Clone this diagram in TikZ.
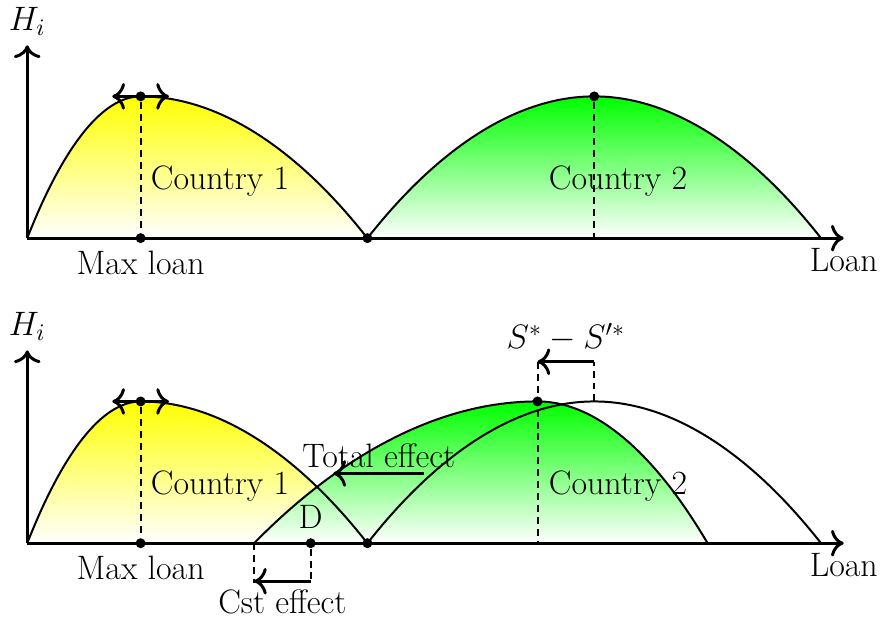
\RequirePackage{fix-cm}
\documentclass[tikz,border=0pt]{standalone}
\usepackage{amsmath}
\usetikzlibrary{positioning,arrows.meta}
\tikzset{
  tip/.tip={To[scale=1.3]},
  axis/.style={line width=1.5pt,-tip},
  curve/.style={line width=1pt},
  dot/.style={circle,fill,inner sep=0pt,minimum size=5pt},
  guide/.style={line width=1pt,dash pattern=on 3.5pt off 2.5pt},
  shiftarr/.style={line width=1.5pt,-tip},
  every node/.style={font=\fontsize{17}{20}\selectfont}
}

\begin{document}
\begin{tikzpicture}
  \useasboundingbox (-0.48,-6.77) rectangle (15.04,4.2);
  % upper panel
  \fill[top color=yellow,bottom color=white] (0,0) parabola bend (2,2.5) (6,0) -- cycle;
  \fill[top color=green,bottom color=white] (6,0) parabola bend (10,2.5) (14,0) -- cycle;
  \draw[curve] (0,0) parabola bend (2,2.5) (6,0) parabola bend (10,2.5) (14,0);
  \coordinate (O1) at (0,0);
  \draw[axis] (O1) -- (0,3.4) node[above=1pt] (H1) {$H_i$};
  \draw[axis] (O1) -- (14.4,0) node[below=1pt] (L1) {Loan};
  \node[dot] (top1) at (2,2.5) {}; \node[dot] (max1) at (2,0) {};
  \node[dot] (mid1) at (6,0) {}; \node[dot] (top2) at (10,2.5) {};
  \coordinate (foot2) at (10,0);
  \coordinate (l1) at (1.5,2.5); \coordinate (r1) at (2.5,2.5);
  \draw[guide] (top1) -- (max1); \draw[guide] (top2) -- (foot2);
  \draw[shiftarr,tip-tip] (l1) -- (r1);
  \node[below=0pt of max1] (ml1) {Max loan};
  \node (c1) at (3.4,1) {Country 1}; \node (c2) at (10.42,1) {Country 2};

  % lower panel
  \begin{scope}[yshift=-5.38cm]
    \fill[top color=yellow,bottom color=white] (0,0) parabola bend (2,2.5) (6,0) -- cycle;
    \fill[top color=green,bottom color=white] (4,0) parabola bend (9,2.5) (12,0) -- cycle;
    \draw[curve] (0,0) parabola bend (2,2.5) (6,0) parabola bend (10,2.5) (14,0);
    \draw[curve] (4,0) parabola bend (9,2.5) (12,0);
    \coordinate (O2) at (0,0);
    \draw[axis] (O2) -- (0,3.4) node[above=1pt] (H2) {$H_i$};
    \draw[axis] (O2) -- (14.4,0) node[below=1pt] (L2) {Loan};
    \node[dot] (top3) at (2,2.5) {}; \node[dot] (max3) at (2,0) {};
    \node[dot] (mid3) at (6,0) {}; \node[dot] (top4) at (9,2.5) {};
    \node[dot] (D) at (5,0) {};
    \coordinate (l3) at (1.5,2.5); \coordinate (r3) at (2.5,2.5);
    \coordinate (old4) at (10,2.5); \coordinate (oldup) at (10,3.2);
    \coordinate (newup) at (9,3.2); \coordinate (foot4) at (9,0);
    \coordinate (st) at (4,0); \coordinate (stdn) at (4,-0.7); \coordinate (Ddn) at (5,-0.7);
    \coordinate (cstr) at (5,-0.67); \coordinate (cstl) at (4,-0.67);
    \coordinate (totr) at (7,1.23); \coordinate (totl) at (5.4,1.23);
    \draw[guide] (top3) -- (max3);
    \draw[guide] (newup) -- (foot4); \draw[guide] (old4) -- (oldup);
    \draw[guide] (st) -- (stdn); \draw[guide] (D) -- (Ddn);
    \draw[shiftarr,tip-tip] (l3) -- (r3);
    \draw[shiftarr] (oldup) -- (newup) node[midway,above=1pt] (sl) {$S^*-S'^*$};
    \draw[shiftarr] (totr) -- (totl) node[midway,above=-1pt] (tl) {Total effect};
    \draw[shiftarr] (cstr) -- (cstl) node[midway,below=0pt] (cl) {Cst effect};
    \node[above=1pt of D] (Dl) {D};
    \node[below=0pt of max3] (ml3) {Max loan};
    \node (c3) at (3.4,1) {Country 1}; \node (c4) at (10.42,1) {Country 2};
  \end{scope}
\end{tikzpicture}
\end{document}
